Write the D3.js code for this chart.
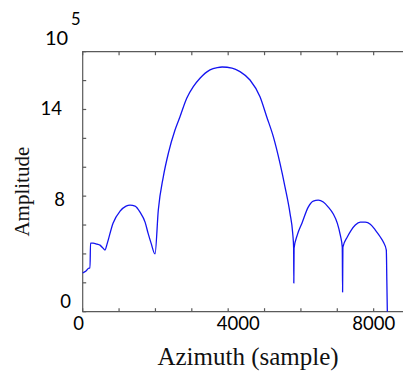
<!DOCTYPE html>
<html>
<head>
<meta charset="utf-8">
<script src="https://cdn.jsdelivr.net/npm/d3@7"></script>
<style>
  html, body { margin: 0; padding: 0; background: #fff; }
  svg { display: block; }
</style>
</head>
<body>
<div id="chart"></div>
<script>
// azimuth sample index and amplitude (x 10^5)
const azimuth = [0, 91, 173, 201, 215, 284, 394, 476, 559, 614, 669, 834, 1027, 1192, 1302, 1440, 1577, 1715, 1797, 1880, 1988,
    2079, 2216, 2354, 2538, 2675, 2860, 3041, 3225, 3500, 3700, 3835, 4105, 4325, 4600, 4875, 5059, 5241, 5425, 5562, 5700,
    5774, 5800, 5805, 5812,
    5899, 6028, 6201, 6339, 6477, 6615, 6752, 6890, 7000, 7083, 7137, 7146, 7154,
    7275, 7385, 7495, 7633, 7771, 7908, 8046, 8183, 8266, 8348, 8362, 8376];
const amplitude = [2.68, 2.81, 3.02, 3.02, 4.75, 4.75, 4.68, 4.61, 4.40, 4.27, 4.68, 6.13, 6.96, 7.31, 7.38, 7.31, 6.89, 6.20, 5.44, 4.75, 4.00,
    7.04, 9.34, 10.96, 12.58, 13.5, 14.78, 15.58, 16.16, 16.74, 16.9, 16.94, 16.87, 16.62, 16.04, 14.88, 13.5, 12.12, 10.27, 8.65, 6.81,
    5.43, 4.4, 1.98, 4.4,
    5.30, 6.13, 7.24, 7.66, 7.72, 7.59, 7.24, 6.76, 6.13, 5.30, 4.47, 1.36, 4.47,
    5.17, 5.65, 6.0, 6.20, 6.20, 6.06, 5.65, 5.17, 4.82, 4.27, 2.2, 0];

const xTicks = d3.range(0, 9001, 1000);
const yTicks = d3.range(0, 19, 2);
const xTickLabels = [0, 4000, 8000];
const yTickLabels = [0, 8, 14];

const W = 403, H = 373;
const plot = { left: 82.7, top: 51.7, bottom: 311.7 };

const svg = d3.select('#chart').append('svg').attr('width', W).attr('height', H);

const x = d3.scaleLinear().domain([0, 9000]).range([plot.left, plot.left + 9 * 36.37]);
const y = d3.scaleLinear().domain([0, 18]).range([plot.bottom, plot.top]);

const axisColor = '#5a5a5a';
const tickFont = 'Lato, "Open Sans", sans-serif';

// frame (right edge falls outside the window)
svg.append('path')
    .attr('d', `M${x.range()[1]},${plot.top}H${plot.left}V${plot.bottom}H${x.range()[1]}`)
    .attr('fill', 'none').attr('stroke', axisColor).attr('stroke-width', 1.2);

// inward ticks on bottom, top and left
const tickLen = 3.5;
svg.selectAll('.xtick-b').data(xTicks).enter().append('line')
    .attr('x1', d => x(d)).attr('x2', d => x(d))
    .attr('y1', plot.bottom).attr('y2', plot.bottom - tickLen)
    .attr('stroke', axisColor).attr('stroke-width', 1.2);
svg.selectAll('.xtick-t').data(xTicks).enter().append('line')
    .attr('x1', d => x(d)).attr('x2', d => x(d))
    .attr('y1', plot.top).attr('y2', plot.top + tickLen)
    .attr('stroke', axisColor).attr('stroke-width', 1.2);
svg.selectAll('.ytick').data(yTicks).enter().append('line')
    .attr('x1', plot.left).attr('x2', plot.left + tickLen)
    .attr('y1', d => y(d)).attr('y2', d => y(d))
    .attr('stroke', axisColor).attr('stroke-width', 1.2);

// tick labels (hand-placed in the original, small nudges)
const xNudge = { 0: -4, 4000: 10, 8000: 0 };
svg.selectAll('.xlab').data(xTickLabels).enter().append('text')
    .attr('x', d => x(d) + xNudge[d])
    .attr('y', plot.bottom + 18)
    .attr('text-anchor', 'middle')
    .attr('font-family', tickFont).attr('font-size', '18.5px').attr('fill', '#000')
    .text(d => d);

const yNudge = { 0: [71, -10], 8: [65, 3], 14: [62, -1] };
svg.selectAll('.ylab').data(yTickLabels).enter().append('text')
    .attr('x', d => yNudge[d][0])
    .attr('y', d => y(d) + yNudge[d][1])
    .attr('dy', '0.36em')
    .attr('text-anchor', 'end')
    .attr('font-family', tickFont).attr('font-size', '18.5px').attr('fill', '#000')
    .text(d => d);

// 10^5 multiplier
svg.append('text').attr('x', 45).attr('y', 45)
    .attr('font-family', tickFont).attr('font-size', '20px').attr('fill', '#000').text('10');
svg.append('text').attr('x', 71).attr('y', 25)
    .attr('font-family', tickFont).attr('font-size', '16.5px').attr('fill', '#000').text('5');

// axis titles
svg.append('text')
    .attr('x', 248).attr('y', 365)
    .attr('text-anchor', 'middle')
    .attr('font-family', '"Liberation Serif", "Times New Roman", serif').attr('font-size', '25px').attr('fill', '#111')
    .text('Azimuth (sample)');
svg.append('text')
    .attr('transform', 'translate(29,191.7) rotate(-90)')
    .attr('text-anchor', 'middle')
    .attr('font-family', '"Liberation Serif", "Times New Roman", serif').attr('font-size', '21px').attr('fill', '#111')
    .text('Amplitude');

// amplitude curve
const line = d3.line()
    .x(i => x(azimuth[i])).y(i => y(amplitude[i]))
    .curve(d3.curveMonotoneX);
svg.append('path')
    .attr('d', line(d3.range(azimuth.length)))
    .attr('fill', 'none')
    .attr('stroke', '#1414f0')
    .attr('stroke-width', 1.3)
    .attr('stroke-linejoin', 'round');
</script>
</body>
</html>
